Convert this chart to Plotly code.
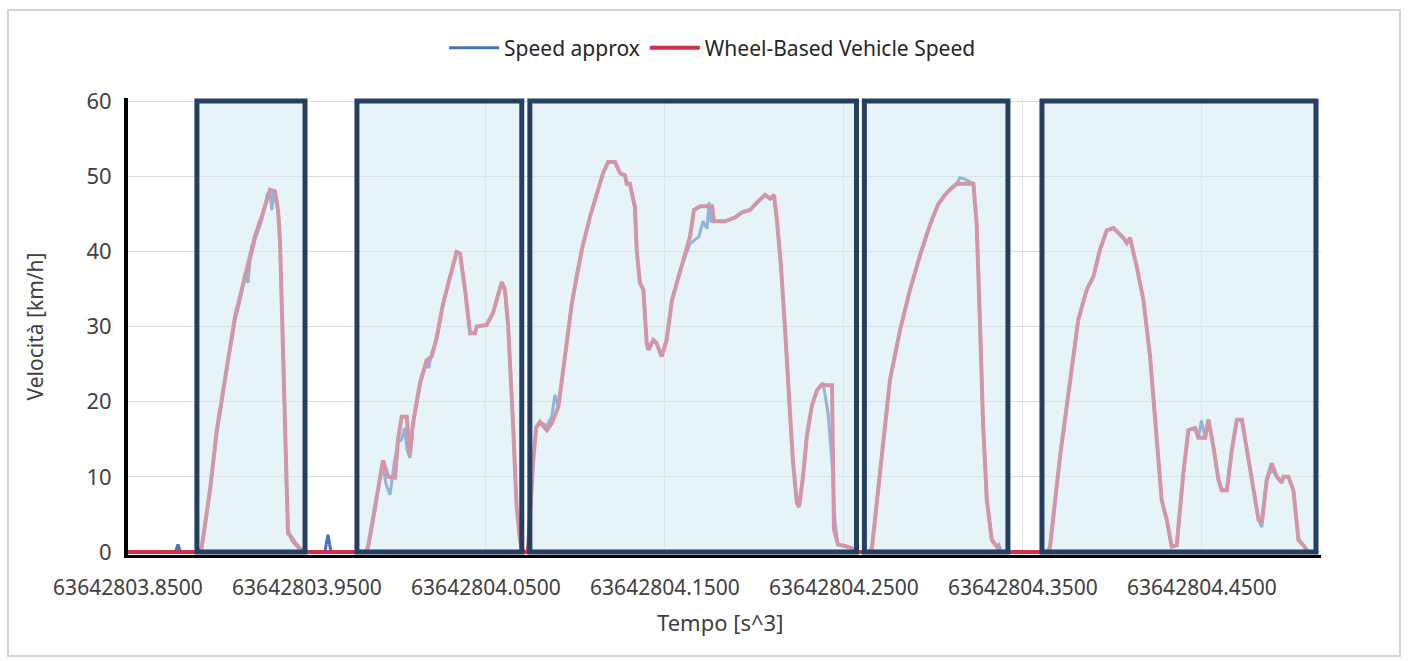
import plotly.graph_objects as go

# Time base (s^3) and offsets of each sample
T0 = 63642803.0

# Wheel-Based Vehicle Speed (km/h)
t_wheel = [
    0.8500, 0.8895, 0.8912, 0.8958, 0.8996, 0.9031, 0.9059, 0.9079, 0.9098, 0.9126,
    0.9154, 0.9182, 0.9209, 0.9247, 0.9278, 0.9293, 0.9321, 0.9338, 0.9349, 0.9366,
    0.9383, 0.9394, 0.9415, 0.9433, 0.9461, 0.9480,
    0.9830, 0.9841, 0.9880, 0.9925, 0.9953, 0.9992, 1.0008, 1.0029, 1.0057, 1.0075,
    1.0092, 1.0131, 1.0169, 1.0197, 1.0225, 1.0260, 1.0299, 1.0336, 1.0355, 1.0383,
    1.0411, 1.0439, 1.0448, 1.0504, 1.0539, 1.0588, 1.0606, 1.0623, 1.0651, 1.0671,
    1.0690, 1.0707,
    1.0735, 1.0763, 1.0780, 1.0802, 1.0840, 1.0867, 1.0904, 1.0923, 1.0951, 1.0979,
    1.1007, 1.1035, 1.1081, 1.1119, 1.1154, 1.1183, 1.1221, 1.1249, 1.1277, 1.1286,
    1.1304, 1.1332, 1.1342, 1.1360, 1.1379, 1.1398, 1.1407, 1.1435, 1.1453, 1.1481,
    1.1509, 1.1539, 1.1584, 1.1640, 1.1662, 1.1696, 1.1763, 1.1774, 1.1835, 1.1891,
    1.1930, 1.1975, 1.2014, 1.2059, 1.2087, 1.2109, 1.2126, 1.2148, 1.2170, 1.2193,
    1.2215, 1.2237, 1.2249, 1.2271, 1.2293, 1.2321, 1.2349, 1.2372, 1.2433, 1.2444,
    1.2466, 1.2506, 1.2545, 1.2567,
    1.2645, 1.2656, 1.2701, 1.2757, 1.2813, 1.2869, 1.2925, 1.2980, 1.3025, 1.3064,
    1.3092, 1.3130, 1.3223, 1.3241, 1.3260, 1.3277, 1.3298, 1.3326, 1.3354, 1.3372,
    1.3640, 1.3651, 1.3707, 1.3744, 1.3781, 1.3809, 1.3856, 1.3893, 1.3930, 1.3968,
    1.4005, 1.4033, 1.4061, 1.4080, 1.4098, 1.4136, 1.4173, 1.4210, 1.4247, 1.4275,
    1.4303, 1.4331, 1.4359, 1.4396, 1.4424, 1.4461, 1.4480, 1.4518, 1.4536, 1.4564,
    1.4592, 1.4611, 1.4639, 1.4667, 1.4695, 1.4723, 1.4751, 1.4788, 1.4816, 1.4834,
    1.4862, 1.4890, 1.4918, 1.4946, 1.4955, 1.4983, 1.5011, 1.5039, 1.5066, 1.5092,
]
v_wheel = [
    0, 0, 0.7, 8.2, 16.2, 21.5, 26, 29, 31.3, 34,
    36.6, 39.3, 42, 44.6, 47.2, 48.2, 48, 45.5, 41.5, 26,
    8.2, 2.5, 1.9, 1.2, 0.5, 0,
    0, 0.7, 6, 12.2, 10, 9.9, 14.9, 18, 18, 12.9,
    17.1, 22.5, 25.5, 26, 28.6, 33, 36.6, 39.9, 39.7, 34.9,
    29.1, 29.1, 30, 30.2, 31.8, 35.9, 34.9, 30.4, 17.1, 6,
    1.6, 0,
    0, 12, 16.5, 17.3, 16.2, 17.1, 19.3, 22.5, 27.8, 33,
    37, 40.2, 44.6, 47.7, 50.4, 51.9, 51.9, 50.4, 50.1, 49,
    49, 45.9, 40.2, 35.8, 34.9, 27.8, 26.9, 28.2, 27.8, 26,
    28.2, 33.5, 37.5, 42, 45.5, 46, 46, 44, 44, 44.5,
    45.2, 45.5, 46.5, 47.5, 47, 47.5, 44, 38, 30, 20,
    12, 6.5, 6, 10, 15.5, 19.5, 21.5, 22.2, 22.2, 3,
    1, 0.8, 0.5, 0,
    0, 0.5, 10.9, 22.9, 29.5, 34.9, 39.5, 43.5, 46.2, 47.5,
    48.2, 49, 49, 43.8, 30.4, 17.1, 6.9, 1.6, 0.7, 0,
    0, 0.7, 12.7, 19.3, 25.5, 30.9, 34.9, 36.6, 40.2, 42.8,
    43.1, 42.4, 41.8, 41.1, 41.8, 37.9, 33.5, 26, 14.9, 6.9,
    4.3, 0.7, 0.9, 10.5, 16.2, 16.5, 15.2, 15.2, 17.6, 14,
    9.6, 8.2, 8.2, 13.6, 17.6, 17.6, 13.6, 8.2, 4.3, 3.9,
    9.6, 11.8, 10, 9.2, 10, 10, 8.2, 1.6, 0.9, 0,
]

# Speed approx (km/h)
t_approx = [
    0.8500, 0.8765, 0.8779, 0.8793, 0.8895, 0.8912, 0.8958, 0.8996, 0.9031, 0.9059,
    0.9079, 0.9098, 0.9126, 0.9154, 0.9170, 0.9182, 0.9209, 0.9247, 0.9278, 0.9293,
    0.9303, 0.9315, 0.9332, 0.9345, 0.9366, 0.9383, 0.9394, 0.9415, 0.9433, 0.9461,
    0.9480, 0.9600, 0.9617, 0.9634,
    0.9830, 0.9841, 0.9880, 0.9920, 0.9942, 0.9964, 0.9985, 1.0008, 1.0029, 1.0045,
    1.0060, 1.0075, 1.0092, 1.0131, 1.0160, 1.0180, 1.0197, 1.0225, 1.0260, 1.0299,
    1.0336, 1.0355, 1.0383, 1.0411, 1.0439, 1.0448, 1.0504, 1.0539, 1.0588, 1.0606,
    1.0623, 1.0651, 1.0671, 1.0690, 1.0707,
    1.0735, 1.0763, 1.0780, 1.0802, 1.0840, 1.0867, 1.0885, 1.0904, 1.0923, 1.0951,
    1.0979, 1.1007, 1.1035, 1.1081, 1.1119, 1.1154, 1.1183, 1.1221, 1.1249, 1.1277,
    1.1286, 1.1304, 1.1332, 1.1342, 1.1360, 1.1379, 1.1398, 1.1407, 1.1435, 1.1453,
    1.1481, 1.1509, 1.1539, 1.1584, 1.1640, 1.1662, 1.1690, 1.1713, 1.1735, 1.1746,
    1.1757, 1.1774, 1.1835, 1.1891, 1.1930, 1.1975, 1.2014, 1.2059, 1.2087, 1.2109,
    1.2126, 1.2148, 1.2170, 1.2193, 1.2215, 1.2237, 1.2249, 1.2271, 1.2293, 1.2321,
    1.2349, 1.2372, 1.2383, 1.2411, 1.2433, 1.2450, 1.2466, 1.2506, 1.2545, 1.2567,
    1.2645, 1.2656, 1.2701, 1.2757, 1.2813, 1.2869, 1.2925, 1.2980, 1.3025, 1.3064,
    1.3092, 1.3130, 1.3147, 1.3176, 1.3223, 1.3241, 1.3260, 1.3277, 1.3298, 1.3326,
    1.3354, 1.3365, 1.3380,
    1.3640, 1.3651, 1.3707, 1.3744, 1.3781, 1.3809, 1.3856, 1.3893, 1.3930, 1.3968,
    1.4005, 1.4033, 1.4061, 1.4080, 1.4098, 1.4136, 1.4173, 1.4210, 1.4247, 1.4275,
    1.4303, 1.4331, 1.4359, 1.4396, 1.4424, 1.4461, 1.4480, 1.4497, 1.4518, 1.4536,
    1.4564, 1.4592, 1.4611, 1.4639, 1.4667, 1.4695, 1.4723, 1.4751, 1.4788, 1.4816,
    1.4834, 1.4862, 1.4890, 1.4918, 1.4946, 1.4955, 1.4983, 1.5011, 1.5039, 1.5066,
    1.5092,
]
v_approx = [
    0, 0, 1.0, 0, 0, 0.5, 8.0, 15.8, 21.0, 25.5,
    28.0, 30.8, 33.5, 37.0, 35.8, 38.8, 41.5, 44.2, 47.5, 48.0,
    45.5, 48.0, 46.0, 44.0, 28.0, 10.0, 3.0, 1.5, 1.0, 0.3,
    0, 0, 2.3, 0,
    0, 0.5, 5.5, 11.8, 9.0, 7.6, 11.5, 14.5, 15.0, 16.5,
    13.5, 12.5, 17.0, 22.0, 25.0, 24.5, 26.5, 28.3, 33, 36.6,
    39.9, 39.7, 34.9, 29.1, 29.1, 30, 30.2, 31.8, 35.9, 34.9,
    30.4, 17.1, 6, 1.6, 0,
    0, 12, 16.5, 17.3, 16.8, 18.0, 20.9, 19.3, 22.5, 27.8,
    33, 37, 40.2, 44.6, 47.7, 50.4, 51.9, 51.9, 50.4, 50.1,
    49, 49, 45.9, 40.2, 35.8, 34.9, 27.8, 26.9, 28.2, 27.8,
    26, 28.2, 33.5, 37.5, 41.0, 41.5, 42, 44, 43, 46.5,
    44, 44, 44, 44.5, 45.2, 45.5, 46.5, 47.5, 47, 47.5,
    44, 38, 30, 20, 12, 6.5, 6, 10, 15.5, 19.5,
    21.5, 22.2, 22.5, 18.5, 12, 4, 1, 0.8, 0.5, 0,
    0, 0.5, 10.9, 22.9, 29.5, 34.9, 39.5, 43.5, 46.2, 47.5,
    48.2, 49, 49.8, 49.6, 49, 43.8, 30.4, 17.1, 6.9, 1.6,
    0.7, 1.0, 0,
    0, 0.7, 12.7, 19.3, 25.5, 30.9, 34.9, 36.6, 40.2, 42.8,
    43.1, 42.4, 41.8, 41.1, 41.8, 37.9, 33.5, 26, 14.9, 6.9,
    4.3, 0.7, 0.9, 10.5, 16.2, 16.5, 15.2, 17.5, 15.2, 17.6,
    14, 9.6, 8.2, 8.2, 13.6, 17.6, 17.6, 13.6, 8.2, 4.3,
    3.3, 9.6, 11.0, 10, 9.2, 10, 10, 8.2, 1.6, 0.9,
    0,
]

# Highlighted driving windows (start / end offsets)
win_start = [0.8885, 0.9779, 1.0745, 1.2614, 1.3606]
win_end = [0.9489, 1.0700, 1.2570, 1.3416, 1.5137]

# Axis ticks
tick_offsets = [0.85, 0.95, 1.05, 1.15, 1.25, 1.35, 1.45]
y_ticks = [0, 10, 20, 30, 40, 50, 60]

FONT = "Noto Sans"
TXT = "#404040"

fig = go.Figure()
fig.add_trace(go.Scatter(
    x=[T0 + t for t in t_approx], y=v_approx, mode="lines",
    name="Speed approx", line=dict(color="#4472C4", width=3),
))
fig.add_trace(go.Scatter(
    x=[T0 + t for t in t_wheel], y=v_wheel, mode="lines",
    name="Wheel-Based Vehicle Speed", line=dict(color="#D2304A", width=4),
))

shapes = []
for a, b in zip(win_start, win_end):
    shapes.append(dict(
        type="rect", xref="x", yref="y", x0=T0 + a, x1=T0 + b, y0=0, y1=60,
        layer="above", fillcolor="rgba(210,235,242,0.55)",
        line=dict(color="#243F61", width=5),
    ))
# light outer frame around the whole chart
shapes.append(dict(
    type="rect", xref="paper", yref="paper",
    x0=-0.1006, x1=1.0662, y0=-0.221, y1=1.1926,
    line=dict(color="#D4D4D4", width=2), fillcolor="rgba(0,0,0,0)", layer="below",
))

fig.update_layout(
    width=1409, height=661,
    margin=dict(l=128, r=88, t=98, b=106),
    paper_bgcolor="white", plot_bgcolor="white",
    font=dict(family=FONT, size=21, color=TXT),
    showlegend=True,
    legend=dict(
        orientation="h", x=0.49, xanchor="center", y=1.1094, yanchor="middle",
        font=dict(family=FONT, size=21, color="#262626"),
        itemwidth=50, bgcolor="rgba(0,0,0,0)",
    ),
    shapes=shapes,
    annotations=[
        dict(text="Velocità [km/h]", xref="paper", yref="paper", x=-0.078, y=0.5,
             textangle=-90, showarrow=False, xanchor="center", yanchor="middle",
             font=dict(family=FONT, size=21, color=TXT)),
        dict(text="Tempo [s^3]", xref="paper", yref="paper", x=0.496, y=-0.1466,
             showarrow=False, xanchor="center", yanchor="middle",
             font=dict(family=FONT, size=22, color=TXT)),
    ],
)

fig.update_xaxes(
    range=[T0 + 0.85, T0 + 1.5165],
    tickvals=[T0 + t for t in tick_offsets], tickformat=".4f",
    showgrid=True, gridcolor="#E3E3E3", gridwidth=1, zeroline=False,
    showline=True, linecolor="black", linewidth=3,
    ticks="outside", ticklen=12, tickcolor="rgba(0,0,0,0)",
    tickfont=dict(family=FONT, size=21, color=TXT),
)
fig.update_yaxes(
    range=[-0.4, 60.4], tickvals=y_ticks,
    showgrid=True, gridcolor="#DCDCDC", gridwidth=1, zeroline=False,
    showline=True, linecolor="black", linewidth=4,
    ticks="outside", ticklen=8, tickcolor="rgba(0,0,0,0)",
    tickfont=dict(family=FONT, size=22, color=TXT),
)

fig.write_html("out.html")
